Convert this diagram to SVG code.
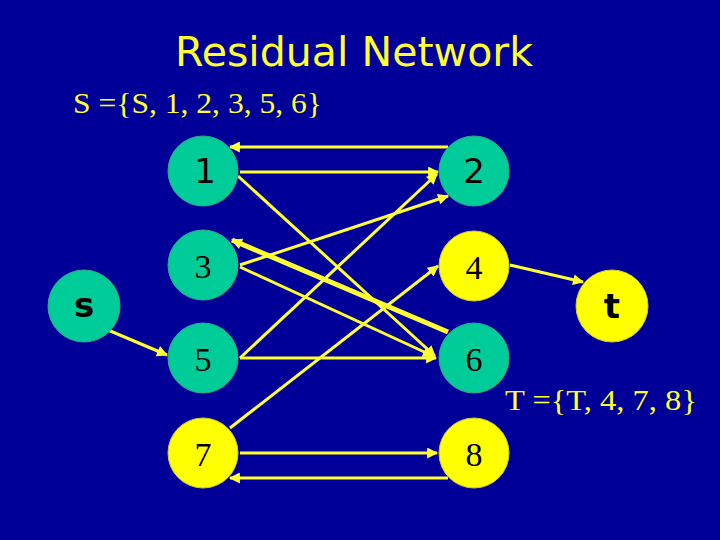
<svg xmlns="http://www.w3.org/2000/svg" width="720" height="540" viewBox="0 0 720 540">
<defs>
<style>
.bg{fill:#000099}
.teal{fill:#00CC99;stroke:#33AA88;stroke-width:1}
.yel{fill:#FFFF00;stroke:#CCCC33;stroke-width:1}
.e{stroke:#FFFF33;stroke-width:3;fill:none;marker-end:url(#ah)}
.thick{stroke-width:5}
.comic{font-family:"Comic Sans MS","DejaVu Sans","Noto Sans",sans-serif}
.serif{font-family:"Liberation Serif","Times New Roman",serif}
.lbl{font-size:34px;fill:#000;text-anchor:middle}
.yt{fill:#FFFF33}
</style>
<marker id="ah" viewBox="0 0 10 10" refX="9" refY="5" markerUnits="userSpaceOnUse" markerWidth="13" markerHeight="11" orient="auto">
<path d="M0,0 L10,5 L0,10 Z" fill="#FFFF33"/>
</marker>
</defs>
<rect class="bg" x="0" y="0" width="720" height="540"/>
<text class="comic yt" x="354" y="66" font-size="40" text-anchor="middle" textLength="358" lengthAdjust="spacingAndGlyphs">Residual Network</text>
<text class="serif yt" x="73" y="113" font-size="30" textLength="249" lengthAdjust="spacingAndGlyphs">S ={S, 1, 2, 3, 5, 6}</text>
<text class="serif yt" x="505" y="410" font-size="30" textLength="192" lengthAdjust="spacingAndGlyphs">T ={T, 4, 7, 8}</text>
<g id="connectors">
<line class="e" x1="448" y1="147" x2="230" y2="147"/>
<line class="e" x1="240" y1="172" x2="438" y2="172"/>
<line class="e" x1="238" y1="176" x2="435" y2="356"/>
<line class="e" x1="240" y1="265" x2="448" y2="196"/>
<line class="e" x1="240" y1="358" x2="437" y2="174"/>
<line class="e thick" x1="448" y1="332" x2="232" y2="240"/>
<line class="e" x1="240" y1="267" x2="433" y2="356"/>
<line class="e" x1="240" y1="358" x2="436" y2="358"/>
<line class="e" x1="230" y1="428" x2="438" y2="266"/>
<line class="e" x1="240" y1="453" x2="437" y2="453"/>
<line class="e" x1="448" y1="478" x2="230" y2="478"/>
<line class="e" x1="108" y1="330" x2="167" y2="355"/>
<line class="e" x1="510" y1="265" x2="583" y2="282"/>
</g>
<g id="node-1"><circle class="teal" cx="203" cy="171" r="35"/><text class="comic lbl" x="205" y="183">1</text></g>
<g id="node-2"><circle class="teal" cx="474" cy="171" r="35"/><text class="comic lbl" x="474" y="183">2</text></g>
<g id="node-3"><circle class="teal" cx="203" cy="265" r="35"/><text class="serif lbl" x="203" y="278">3</text></g>
<g id="node-4"><circle class="yel" cx="474" cy="266" r="35"/><text class="serif lbl" x="474" y="279">4</text></g>
<g id="node-5"><circle class="teal" cx="203" cy="358" r="35"/><text class="serif lbl" x="203" y="371">5</text></g>
<g id="node-6"><circle class="teal" cx="474" cy="358" r="35"/><text class="serif lbl" x="474" y="371">6</text></g>
<g id="node-7"><circle class="yel" cx="203" cy="453" r="35"/><text class="serif lbl" x="203" y="466">7</text></g>
<g id="node-8"><circle class="yel" cx="474" cy="453" r="35"/><text class="serif lbl" x="474" y="466">8</text></g>
<g id="node-s"><circle class="teal" cx="84" cy="306" r="36"/><text class="comic lbl" x="84" y="317" font-weight="bold">s</text></g>
<g id="node-t"><circle class="yel" cx="612" cy="306" r="36"/><text class="comic lbl" x="612" y="318" font-weight="bold">t</text></g>
</svg>
